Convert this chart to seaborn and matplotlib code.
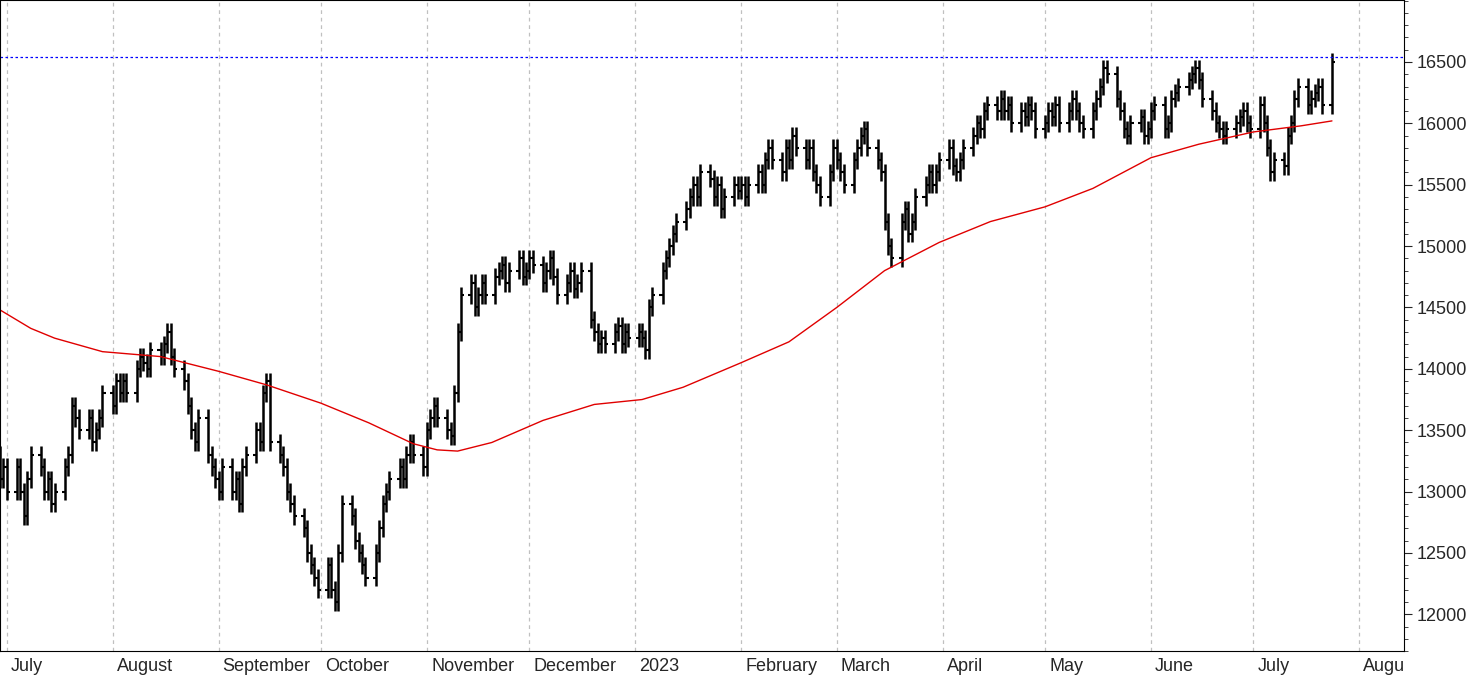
import numpy as np
import pandas as pd
import matplotlib
matplotlib.use("Agg")
import matplotlib.pyplot as plt
import matplotlib.dates as mdates
import seaborn as sns

# daily closes, month by month
closes_jun22 = [13300, 13100, 13200, 13000, 13200, 13000]
closes_jul22 = [12800, 13100, 13300, 13200, 13000, 13100, 12900, 13000, 13200, 13300, 13700, 13600, 13500, 13600, 13400, 13500, 13600, 13800, 13700, 13900, 13800]
closes_aug22 = [13900, 13800, 14000, 14100, 14050, 14000, 14150, 14100, 14200, 14300, 14100, 14000, 13900, 13700, 13500, 13400, 13600, 13300, 13200, 13100, 13000, 13200, 13000]
closes_sep22 = [13100, 12900, 13200, 13300, 13500, 13400, 13800, 13900, 13400, 13300, 13200, 13000, 12900, 12800, 12700, 12500, 12400, 12300, 12200, 12400, 12200, 12100]
closes_oct22 = [12500, 12900, 12800, 12600, 12500, 12400, 12300, 12500, 12700, 12900, 13000, 13100, 13200, 13100, 13300, 13400, 13300, 13200, 13500, 13600, 13700]
closes_nov22 = [13600, 13500, 13450, 13800, 14300, 14600, 14700, 14500, 14600, 14700, 14600, 14750, 14800, 14850, 14700, 14800, 14900, 14750, 14800, 14900, 14850, 14700]
closes_dec22 = [14800, 14900, 14750, 14600, 14700, 14800, 14650, 14700, 14800, 14400, 14300, 14200, 14250, 14200, 14300, 14350, 14200, 14300, 14250, 14300, 14250, 14150]
closes_jan23 = [14500, 14600, 14800, 14900, 15000, 15100, 15200, 15300, 15400, 15500, 15400, 15600, 15550, 15400, 15500, 15300, 15400, 15500, 15450, 15500, 15400, 15500]
closes_feb23 = [15600, 15500, 15700, 15800, 15700, 15600, 15800, 15700, 15900, 15800, 15700, 15800, 15600, 15500, 15400, 15600, 15800, 15700, 15600, 15500]
closes_mar23 = [15700, 15800, 15900, 15950, 15800, 15700, 15600, 15200, 15000, 14900, 15200, 15300, 15100, 15200, 15400, 15500, 15600, 15500, 15600, 15700, 15800, 15650, 15600]
closes_apr23 = [15700, 15800, 15900, 16000, 15950, 16100, 16150, 16100, 16200, 16100, 16150, 16000, 16100, 16050, 16150, 16100, 15950, 16000]
closes_may23 = [16100, 16050, 16150, 16000, 16100, 16200, 16100, 16000, 15950, 16100, 16200, 16300, 16450, 16400, 16200, 16100, 15950, 15900, 16000, 16050, 15900, 15950]
closes_jun23 = [16100, 16150, 15950, 16000, 16200, 16250, 16300, 16350, 16400, 16450, 16350, 16200, 16100, 16000, 15950, 15900, 15950, 16000, 16050, 16100, 16000, 15950]
closes_jul23 = [16150, 16000, 15800, 15600, 15700, 15650, 15900, 16000, 16200, 16300, 16150, 16200, 16250, 16300, 16150, 16500]

# 200-day moving average, read at roughly weekly/biweekly points
ma_dates = ["2022-06-29", "2022-07-08", "2022-07-15", "2022-07-29", "2022-08-15", "2022-09-01", "2022-09-15",
            "2022-10-01", "2022-10-15", "2022-10-28", "2022-11-04", "2022-11-10", "2022-11-20", "2022-12-05",
            "2022-12-20", "2023-01-03", "2023-01-15", "2023-02-01", "2023-02-15", "2023-03-01",
            "2023-03-15", "2023-03-31", "2023-04-15", "2023-05-01", "2023-05-15", "2023-06-01",
            "2023-06-15", "2023-07-01", "2023-07-15", "2023-07-24"]
ma_values = [14480, 14330, 14250, 14140, 14100, 13980, 13870, 13720, 13560, 13390, 13340, 13330, 13400, 13580,
             13710, 13750, 13850, 14050, 14220, 14500, 14800, 15030, 15200, 15320, 15470, 15720,
             15830, 15930, 15980, 16020]

resistance = 16540

closes = (closes_jun22 + closes_jul22 + closes_aug22 + closes_sep22 + closes_oct22 + closes_nov22 +
          closes_dec22 + closes_jan23 + closes_feb23 + closes_mar23 + closes_apr23 + closes_may23 +
          closes_jun23 + closes_jul23)
dates = pd.bdate_range(end="2023-07-24", periods=len(closes))
c = np.array(closes, dtype=float)
o = np.concatenate([[c[0] + 100], c[:-1]])
hi = np.maximum(o, c) + 70
lo = np.minimum(o, c) - 70

sns.set_style("white")
plt.rcParams["font.family"] = ["Liberation Sans", "DejaVu Sans"]
fig, ax = plt.subplots(figsize=(14.76, 6.79), dpi=100)
fig.subplots_adjust(left=0, right=0.951, top=1, bottom=0.041)

x = mdates.date2num(dates)
ax.vlines(x, lo, hi, color="black", lw=1.8)
ax.hlines(o, x - 0.9, x, color="black", lw=1.5)
ax.hlines(c, x, x + 0.9, color="black", lw=1.5)

ma = pd.DataFrame({"date": pd.to_datetime(ma_dates), "ma": ma_values})
sns.lineplot(data=ma, x="date", y="ma", color="#e00000", lw=1, ax=ax)
ax.axhline(resistance, color="#0000ff", lw=0.9, ls=(0, (2, 2)))

ax.set_ylim(11700, 17005)
ax.set_xlim(pd.Timestamp("2022-06-29"), pd.Timestamp("2023-08-14"))
ax.yaxis.tick_right()
ax.set_yticks(np.arange(12000, 16501, 500))
ax.yaxis.set_minor_locator(matplotlib.ticker.MultipleLocator(100))
ax.tick_params(axis="y", which="major", length=6, labelsize=13)
ax.tick_params(axis="y", which="minor", length=3)
ax.set_xlabel("")
ax.set_ylabel("")

months = pd.date_range("2022-07-01", "2023-08-01", freq="MS")
ax.set_xticks(months)
ax.set_xticklabels([])
ax.xaxis.set_minor_locator(mdates.WeekdayLocator(byweekday=0))
ax.tick_params(axis="x", which="major", length=22)
ax.tick_params(axis="x", which="minor", length=4)
for m in months:
    ax.axvline(m, color="#c0c0c0", lw=0.9, ls=(0, (3, 3)), zorder=0)
    lab = "2023" if m.month == 1 else m.strftime("%B")
    if m.month == 8 and m.year == 2023:
        lab = "Augu"
    ax.text(m + pd.Timedelta(days=1.2), -0.01, lab, transform=ax.get_xaxis_transform(),
            ha="left", va="top", fontsize=13, clip_on=False)
for s in ax.spines.values():
    s.set_color("black")

fig.savefig("out.png", dpi=100)
